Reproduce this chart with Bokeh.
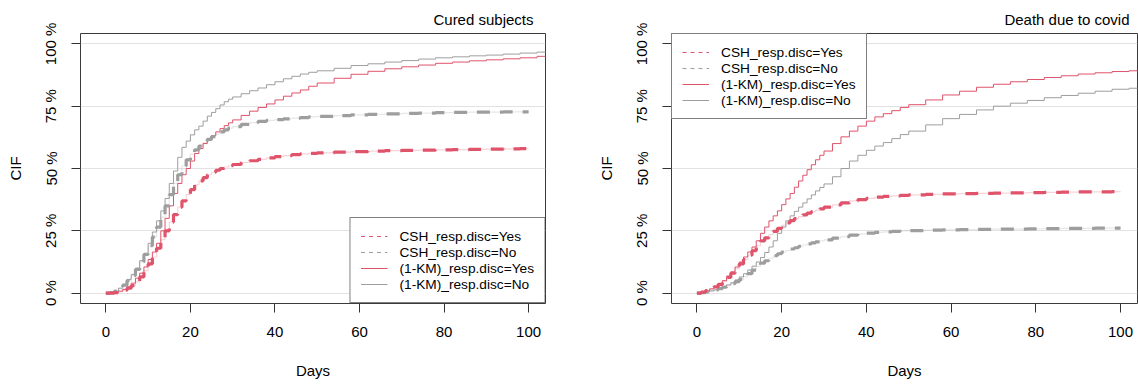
from bokeh.plotting import figure
from bokeh.layouts import row
from bokeh.models import Legend, LegendItem, FixedTicker, Range1d
from bokeh.embed import file_html
from bokeh.resources import INLINE

# ---------------- data ----------------
DAYS = list(range(0, 31)) + list(range(32, 51, 2)) + list(range(54, 103, 4))

X_TICKS = [0, 20, 40, 60, 80, 100]
Y_TICKS = [0, 25, 50, 75, 100]
Y_TICK_LABELS = ["0 %", "25 %", "50 %", "75 %", "100 %"]

CSH_END = 100   # end of CSH curves (days)
KM_END = 106    # KM curves run past the right edge

SERIES_NAMES = ["CSH_resp.disc=Yes", "CSH_resp.disc=No",
                "(1-KM)_resp.disc=Yes", "(1-KM)_resp.disc=No"]

# Panel 1: Cured subjects
cured_csh_yes = [0, 0, 0.002, 0.006, 0.012, 0.02, 0.03, 0.045, 0.065, 0.09, 0.117, 0.145, 0.18, 0.215, 0.25,
                 0.285, 0.315, 0.345, 0.37, 0.395, 0.415, 0.435, 0.45, 0.463, 0.475, 0.485, 0.493, 0.50, 0.506,
                 0.511, 0.516,
                 0.524, 0.531, 0.537, 0.543, 0.548, 0.552, 0.556, 0.559, 0.561, 0.563,
                 0.566, 0.568, 0.57, 0.572, 0.573, 0.574, 0.575, 0.576, 0.577, 0.578, 0.579, 0.58, 0.581]
cured_csh_no = [0, 0.002, 0.008, 0.018, 0.032, 0.05, 0.07, 0.095, 0.125, 0.155, 0.19, 0.225, 0.265, 0.305, 0.35,
                0.395, 0.44, 0.475, 0.51, 0.535, 0.558, 0.575, 0.59, 0.604, 0.617, 0.628, 0.638, 0.647, 0.655,
                0.662, 0.668,
                0.677, 0.684, 0.689, 0.693, 0.696, 0.699, 0.702, 0.704, 0.707, 0.709,
                0.712, 0.715, 0.717, 0.719, 0.721, 0.722, 0.724, 0.725, 0.726, 0.726, 0.727, 0.727, 0.727]
cured_km_yes = [0, 0, 0.003, 0.008, 0.015, 0.025, 0.04, 0.06, 0.08, 0.105, 0.135, 0.165, 0.20, 0.25, 0.30,
                0.35, 0.40, 0.44, 0.475, 0.50, 0.53, 0.56, 0.58, 0.60, 0.617, 0.632, 0.647, 0.66, 0.672,
                0.683, 0.695,
                0.713, 0.73, 0.745, 0.759, 0.775, 0.79, 0.803, 0.815, 0.83, 0.843,
                0.862, 0.878, 0.89, 0.90, 0.908, 0.915, 0.922, 0.927, 0.932, 0.936, 0.94, 0.944, 0.950]
cured_km_no = [0, 0.002, 0.008, 0.02, 0.035, 0.055, 0.075, 0.10, 0.13, 0.16, 0.20, 0.245, 0.29, 0.33, 0.38,
               0.44, 0.49, 0.545, 0.585, 0.61, 0.635, 0.655, 0.67, 0.69, 0.71, 0.725, 0.74, 0.755, 0.768,
               0.778, 0.787,
               0.80, 0.812, 0.823, 0.836, 0.848, 0.86, 0.87, 0.879, 0.886, 0.892,
               0.902, 0.913, 0.92, 0.927, 0.933, 0.939, 0.944, 0.948, 0.952, 0.955, 0.959, 0.963, 0.967]

# Panel 2: Death due to covid
death_csh_yes = [0, 0.004, 0.01, 0.017, 0.025, 0.035, 0.048, 0.063, 0.08, 0.098, 0.117, 0.135, 0.152, 0.17,
                 0.19, 0.21, 0.222, 0.235, 0.248, 0.26, 0.272, 0.282, 0.291, 0.299, 0.307, 0.314, 0.321, 0.327,
                 0.333, 0.338, 0.345,
                 0.354, 0.362, 0.37, 0.375, 0.38, 0.385, 0.388, 0.39, 0.392, 0.394,
                 0.396, 0.398, 0.399, 0.40, 0.401, 0.402, 0.403, 0.404, 0.405, 0.406, 0.406, 0.407, 0.407]
death_csh_no = [0, 0.002, 0.005, 0.009, 0.013, 0.018, 0.024, 0.031, 0.038, 0.046, 0.055, 0.066, 0.078, 0.092,
                0.107, 0.12, 0.13, 0.14, 0.15, 0.158, 0.165, 0.171, 0.177, 0.182, 0.188, 0.193, 0.198, 0.202,
                0.206, 0.21, 0.214,
                0.221, 0.227, 0.233, 0.238, 0.241, 0.244, 0.246, 0.248, 0.25, 0.251,
                0.253, 0.254, 0.255, 0.256, 0.257, 0.257, 0.258, 0.259, 0.26, 0.26, 0.261, 0.261, 0.261]
death_km_yes = [0, 0.004, 0.01, 0.017, 0.025, 0.037, 0.05, 0.068, 0.085, 0.105, 0.125, 0.145, 0.165, 0.185,
                0.21, 0.24, 0.265, 0.29, 0.31, 0.33, 0.355, 0.378, 0.40, 0.425, 0.45, 0.473, 0.495, 0.515,
                0.535, 0.553, 0.57,
                0.60, 0.627, 0.65, 0.67, 0.69, 0.707, 0.72, 0.732, 0.745, 0.756,
                0.775, 0.795, 0.81, 0.826, 0.838, 0.848, 0.857, 0.865, 0.872, 0.879, 0.884, 0.889, 0.892]
death_km_no = [0, 0.002, 0.005, 0.009, 0.013, 0.018, 0.025, 0.033, 0.042, 0.053, 0.065, 0.078, 0.093, 0.108,
               0.125, 0.143, 0.163, 0.185, 0.21, 0.24, 0.265, 0.29, 0.31, 0.328, 0.345, 0.362, 0.378, 0.394,
               0.41, 0.424, 0.438,
               0.467, 0.50, 0.53, 0.553, 0.573, 0.59, 0.604, 0.62, 0.636, 0.65,
               0.675, 0.70, 0.717, 0.735, 0.75, 0.762, 0.773, 0.784, 0.793, 0.802, 0.81, 0.818, 0.822]

# ---------------- styling ----------------
RED = "#DF536B"
GRAY = "#9E9E9E"
FONT = "Liberation Sans"


def step_xy(values, end):
    xs = [d for d in DAYS if d <= end]
    ys = [v * 100 for d, v in zip(DAYS, values) if d <= end]
    xs.append(end)
    ys.append(ys[-1])
    return xs, ys


def make_panel(title, title_offset, csh_yes, csh_no, km_yes, km_no, legend_loc, bl, br):
    p = figure(width=569, height=385,
               x_range=Range1d(-6, 104), y_range=Range1d(-4.16, 104.16),
               output_backend="svg", toolbar_location=None,
               min_border_left=bl, min_border_right=br,
               min_border_top=33, min_border_bottom=82)
    p.background_fill_color = "white"
    p.border_fill_color = "white"
    p.outline_line_color = "#3a3a3a"
    p.outline_line_width = 1

    p.title.text = title
    p.title.align = "right"
    p.title.offset = title_offset
    p.title.standoff = 12
    p.title.text_font = FONT
    p.title.text_font_size = "15px"
    p.title.text_font_style = "normal"
    p.title.text_color = "black"

    p.xaxis.ticker = FixedTicker(ticks=X_TICKS)
    p.yaxis.ticker = FixedTicker(ticks=Y_TICKS)
    p.yaxis.major_label_overrides = {t: lab for t, lab in zip(Y_TICKS, Y_TICK_LABELS)}
    p.yaxis.major_label_orientation = "vertical"
    for ax in (p.xaxis[0], p.yaxis[0]):
        ax.axis_line_color = None
        ax.minor_tick_line_color = None
        ax.major_tick_in = 0
        ax.major_tick_out = 9
        ax.major_tick_line_color = "#333333"
        ax.major_label_text_font = FONT
        ax.major_label_text_font_size = "15px"
        ax.major_label_text_color = "black"
        ax.axis_label_text_font = FONT
        ax.axis_label_text_font_size = "15px"
        ax.axis_label_text_font_style = "normal"
        ax.axis_label_text_color = "black"
    p.xaxis.axis_label = "Days"
    p.yaxis.axis_label = "CIF"
    p.xaxis.major_label_standoff = 14
    p.xaxis.axis_label_standoff = 22
    p.yaxis.major_label_standoff = 12
    p.yaxis.axis_label_standoff = 16

    p.xgrid.grid_line_color = None
    p.ygrid.grid_line_color = "#E2E2E2"
    p.ygrid.grid_line_width = 1

    # faint underlay of the CSH curves
    for vals, col in ((csh_yes, RED), (csh_no, GRAY)):
        xs, ys = step_xy(vals, CSH_END)
        p.step(xs, ys, mode="after", line_color=col, line_width=1.2, line_alpha=0.25)
    # KM curves
    for vals, col in ((km_yes, RED), (km_no, GRAY)):
        xs, ys = step_xy(vals, KM_END)
        p.step(xs, ys, mode="after", line_color=col, line_width=1)
    # CSH curves (thick dashed)
    for vals, col in ((csh_no, GRAY), (csh_yes, RED)):
        xs, ys = step_xy(vals, CSH_END)
        p.step(xs, ys, mode="after", line_color=col, line_width=3.2, line_dash="13 10")

    # legend proxies (thin lines, outside visible range)
    proxies = [
        p.line([-50, -49], [-50, -50], line_color=RED, line_width=1, line_dash="4 4"),
        p.line([-50, -49], [-50, -50], line_color=GRAY, line_width=1, line_dash="4 4"),
        p.line([-50, -49], [-50, -50], line_color=RED, line_width=1),
        p.line([-50, -49], [-50, -50], line_color=GRAY, line_width=1),
    ]
    legend = Legend(items=[LegendItem(label=n, renderers=[r]) for n, r in zip(SERIES_NAMES, proxies)],
                    location=legend_loc)
    legend.margin = 0
    legend.padding = 10
    legend.spacing = 0
    legend.label_height = 16
    legend.glyph_height = 16
    legend.glyph_width = 27
    legend.label_standoff = 12
    legend.label_text_font = FONT
    legend.label_text_font_size = "13.7px"
    legend.label_text_color = "black"
    legend.border_line_color = "black"
    legend.border_line_width = 1
    legend.background_fill_color = "white"
    legend.background_fill_alpha = 1
    p.add_layout(legend)
    return p


p1 = make_panel("Cured subjects", 12, cured_csh_yes, cured_csh_no, cured_km_yes, cured_km_no,
                "bottom_right", 80, 24)
p2 = make_panel("Death due to covid", 8, death_csh_yes, death_csh_no, death_km_yes, death_km_no,
                "top_left", 102, 1)

layout = row(p1, p2)
open("out.html", "w").write(file_html(layout, INLINE))
